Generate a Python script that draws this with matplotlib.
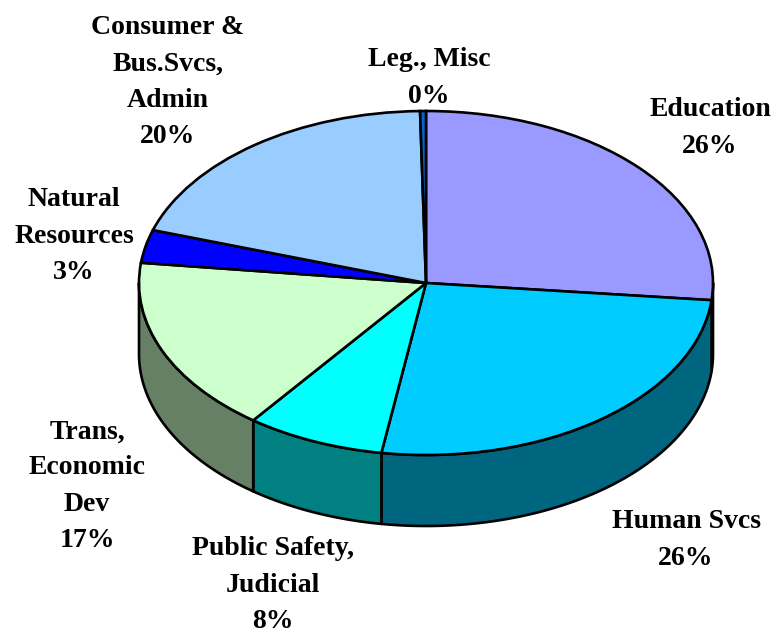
import numpy as np
import matplotlib
matplotlib.use("Agg")
import matplotlib.pyplot as plt

W, H = 774, 632
CX, CY, RX, RY, DEPTH = 426, 283, 287, 172, 71

categories = ["Education", "Human Svcs", "Public Safety,\nJudicial", "Trans,\nEconomic\nDev",
              "Natural\nResources", "Consumer &\nBus.Svcs,\nAdmin", "Leg., Misc"]
values = [26.6, 25.9, 7.8, 16.6, 3.1, 19.7, 0.33]
pct_labels = ["26%", "26%", "8%", "17%", "3%", "20%", "0%"]
top_colors = ["#9999FF", "#00CCFF", "#00FFFF", "#CCFFCC", "#0000FF", "#99CCFF", "#0066CC"]
side_colors = ["#5C5C99", "#006680", "#008080", "#668066", "#000099", "#5C7A99", "#003D7A"]
label_px = [(710, 128), (686, 540), (273, 585), (87, 486), (74, 236), (168, 82), (429, 78)]

plt.rcParams["font.family"] = ["Liberation Serif", "DejaVu Serif"]
fig = plt.figure(figsize=(W / 100, H / 100), dpi=100)
ax = fig.add_axes([0, 0, 1, 1])
LW = 1.9

# Walls: angles run clockwise from the top of the pie
frac = np.array(values) / sum(values)
edges = np.concatenate([[0], np.cumsum(frac)]) * 2 * np.pi
d = DEPTH / RY
for a0, a1, c in zip(edges[:-1], edges[1:], side_colors):
    lo, hi = max(a0, np.pi / 2), min(a1, 3 * np.pi / 2)
    if hi <= lo:
        continue
    t = np.linspace(lo, hi, 120)
    x, y = np.sin(t), np.cos(t)
    ax.fill(np.r_[x, x[::-1]], np.r_[y, y[::-1] - d], facecolor=c, edgecolor="black",
            linewidth=LW, joinstyle="round", zorder=1)

# Top face: a pie stretched into an ellipse by the axes limits
ax.pie(values, colors=top_colors, startangle=90, counterclock=False, radius=1,
       wedgeprops=dict(edgecolor="black", linewidth=LW, zorder=2))
ax.set_aspect("auto")
ax.set_xlim(-CX / RX, (W - CX) / RX)
ax.set_ylim((CY - H) / RY, CY / RY)
ax.axis("off")

for cat, pct, (px, py) in zip(categories, pct_labels, label_px):
    ax.text((px - CX) / RX, (CY - py) / RY, cat + "\n" + pct, ha="center", va="center",
            fontsize=20, fontweight="bold", linespacing=1.58, color="black", zorder=5)

fig.savefig("out.png", dpi=100)
